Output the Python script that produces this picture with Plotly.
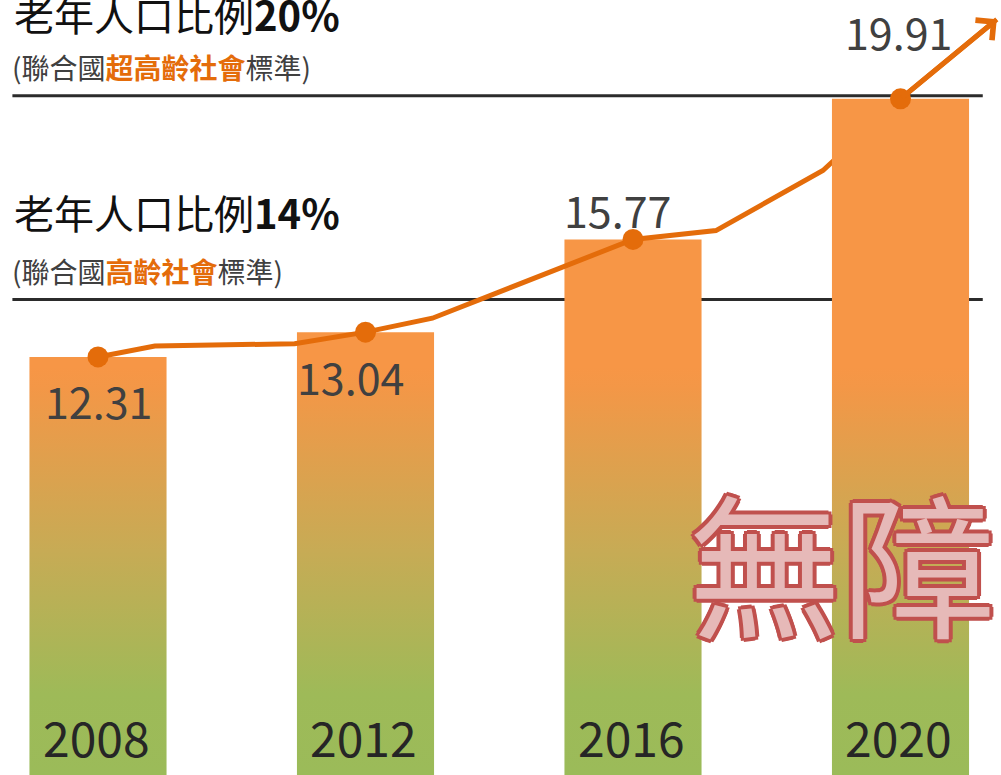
import plotly.graph_objects as go

# ---- data ----
years = [2008, 2012, 2016, 2020]
ratios = [12.31, 13.04, 15.77, 19.91]
year_labels = ["2008", "2012", "2016", "2020"]
value_labels = ["12.31", "13.04", "15.77", "19.91"]

# trend line vertices, last point is the arrow tip
trend_x = [2008, 2008.85, 2010.94, 2012, 2013.0, 2016, 2017.24, 2018.84, 2020, 2021.44]
trend_y = [12.31, 12.63, 12.70, 13.04, 13.45, 15.77, 16.03, 17.80, 19.91, 22.25]

thresholds = [20, 14]
threshold_titles = ["老年人口比例<b>20%</b>", "老年人口比例<b>14%</b>"]
threshold_notes = [
    "(聯合國<span style='color:#E46C0A'><b>超高齡社會</b></span>標準)",
    "(聯合國<span style='color:#E46C0A'><b>高齡社會</b></span>標準)",
]
watermark = "無障"

# ---- style ----
FONT = "Noto Sans CJK TC"
ORANGE = "#E46C0A"
BAR_HALF = 1.025
X_RANGE = [2006.5346, 2021.5028]
Y_RANGE = [0, 22.82]
bar_scale = [[0, "#9BBB59"], [0.2, "#9EBA58"], [0.55, "#C7AB55"], [0.95, "#F39747"], [1, "#F79646"]]

fig = go.Figure()


def add_bar(i):
    c, v = years[i], ratios[i]
    fig.add_trace(go.Scatter(
        x=[c - BAR_HALF, c + BAR_HALF, c + BAR_HALF, c - BAR_HALF, c - BAR_HALF],
        y=[0, 0, v, v, 0],
        mode="none", fill="toself",
        fillgradient=dict(type="vertical", colorscale=bar_scale, start=0, stop=12),
        hoverinfo="skip", showlegend=False,
    ))


for i in range(3):
    add_bar(i)

fig.add_trace(go.Scatter(
    x=trend_x, y=trend_y, mode="lines",
    line=dict(color=ORANGE, width=5),
    hoverinfo="skip", showlegend=False,
))

add_bar(3)

fig.add_trace(go.Scatter(
    x=years, y=ratios, mode="markers",
    marker=dict(color=ORANGE, size=21),
    showlegend=False,
))

# threshold lines
for t in thresholds:
    fig.add_shape(type="line", xref="x", yref="y", x0=2006.72, x1=2021.23, y0=t, y1=t,
                  line=dict(color="#2b2b2b", width=3), layer="below")

# arrow head on the trend
fig.add_annotation(x=trend_x[-1], y=trend_y[-1], ax=trend_x[-2], ay=trend_y[-2],
                   xref="x", yref="y", axref="x", ayref="y", text="",
                   showarrow=True, arrowhead=4, arrowsize=1.0, arrowwidth=5, arrowcolor=ORANGE)

# value labels
val_shift = [(0, -43), (-15, -44), (-16, 30), (-2, 68)]
for i in range(4):
    fig.add_annotation(x=years[i], y=ratios[i], xref="x", yref="y", text=value_labels[i],
                       showarrow=False, xshift=val_shift[i][0], yshift=val_shift[i][1],
                       font=dict(family=FONT, size=43, color="#404040"))

# year labels
for i in range(4):
    fig.add_annotation(x=years[i], y=0, xref="x", yref="y", text=year_labels[i],
                       showarrow=False, xshift=-2, yshift=39,
                       font=dict(family=FONT, size=48, color="#262626"))

# threshold titles
title_y = [14, 212]
note_y = [67, 271]
for k in range(2):
    fig.add_annotation(x=12 / 1001, y=1 - title_y[k] / 775, xref="paper", yref="paper",
                       xanchor="left", yanchor="middle", text=threshold_titles[k], showarrow=False,
                       font=dict(family=FONT, size=40, color="#111111"))
    fig.add_annotation(x=10 / 1001, y=1 - note_y[k] / 775, xref="paper", yref="paper",
                       xanchor="left", yanchor="middle", text=threshold_notes[k], showarrow=False,
                       font=dict(family=FONT, size=28, color="#404040"))

# watermark
outline = ", ".join(f"{dx}px {dy}px 0 #C0504D" for dx, dy in
                    [(4, 0), (-4, 0), (0, 4), (0, -4), (3, 3), (-3, -3), (3, -3), (-3, 3)])
fig.add_annotation(x=842 / 1001, y=1 - 559 / 775, xref="paper", yref="paper",
                   xanchor="center", yanchor="middle",
                   text=watermark, showarrow=False,
                   font=dict(family=FONT, size=154, color="#E6B9B8", shadow=outline))

fig.update_layout(
    width=1001, height=775, autosize=False,
    margin=dict(l=0, r=0, t=0, b=0, pad=0),
    paper_bgcolor="white", plot_bgcolor="white",
    xaxis=dict(range=X_RANGE, visible=False, fixedrange=True),
    yaxis=dict(range=Y_RANGE, visible=False, fixedrange=True),
    showlegend=False,
)

fig.write_html("out.html", config={"displayModeBar": False},
               post_script="document.body.style.margin='0px';")
